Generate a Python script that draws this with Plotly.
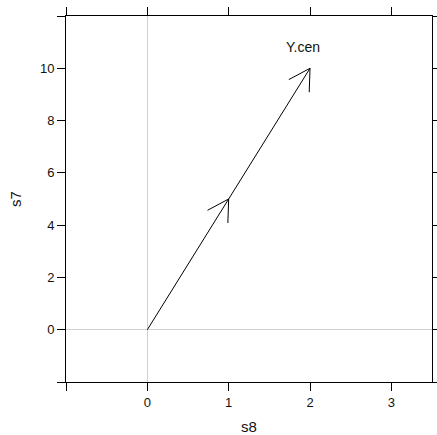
import numpy as np
import plotly.graph_objects as go

# data
s8 = [0, 1, 2]
s7 = [0, 5, 10]
label = "Y.cen"
x_ticks = [-1, 0, 1, 2, 3]
x_ticktext = ["", "0", "1", "2", "3"]
y_ticks = [-2, 0, 2, 4, 6, 8, 10, 12]
y_ticktext = ["", "0", "2", "4", "6", "8", "10", ""]
x_range = [-1, 3.5]
y_range = [-2, 12]

W, H = 437, 435
ML, MR, MT, MB = 66, 5, 16, 53
pw = W - ML - MR
ph = H - MT - MB
sx = pw / (x_range[1] - x_range[0])
sy = ph / (y_range[1] - y_range[0])

fig = go.Figure()

# arrow segments
fig.add_trace(go.Scatter(x=s8, y=s7, mode="lines",
                         line=dict(color="black", width=1), hoverinfo="skip"))

L = 24
ang = np.deg2rad(30)
for i in range(1, len(s8)):
    dxp = (s8[i] - s8[i - 1]) * sx
    dyp = (s7[i] - s7[i - 1]) * sy
    n = np.hypot(dxp, dyp)
    ux, uy = -dxp / n, -dyp / n
    bx, by = [], []
    for a in (ang, -ang):
        rx = ux * np.cos(a) - uy * np.sin(a)
        ry = ux * np.sin(a) + uy * np.cos(a)
        bx += [s8[i] + L * rx / sx, s8[i], None]
        by += [s7[i] + L * ry / sy, s7[i], None]
    fig.add_trace(go.Scatter(x=bx, y=by, mode="lines",
                             line=dict(color="black", width=1), hoverinfo="skip"))

fig.add_annotation(x=s8[-1], y=s7[-1], text=label, showarrow=False,
                   xshift=-7, yshift=21,
                   font=dict(family="Liberation Sans, Arial", size=14, color="#111"))

font = dict(family="Liberation Sans, Arial", size=13, color="#111")
tfont = dict(family="Liberation Sans, Arial", size=15, color="#111")
fig.update_xaxes(range=x_range, tickvals=x_ticks, ticktext=x_ticktext,
                 ticks="outside", ticklen=8, tickcolor="black",
                 showline=True, linecolor="black", linewidth=1, mirror="ticks",
                 showgrid=False, zeroline=True, zerolinecolor="#d0d0d0", zerolinewidth=1,
                 tickfont=font, automargin=False,
                 title=dict(text="s8", font=tfont, standoff=12))
fig.update_yaxes(range=y_range, tickvals=y_ticks, ticktext=y_ticktext,
                 ticks="outside", ticklen=8, tickcolor="black",
                 showline=True, linecolor="black", linewidth=1, mirror="ticks",
                 showgrid=False, zeroline=True, zerolinecolor="#d0d0d0", zerolinewidth=1,
                 tickfont=font, automargin=False,
                 title=dict(text="s7", font=tfont, standoff=14))

fig.update_layout(width=W, height=H, margin=dict(l=ML, r=MR, t=MT, b=MB),
                  plot_bgcolor="white", paper_bgcolor="white", showlegend=False)

fig.write_html("out.html")
